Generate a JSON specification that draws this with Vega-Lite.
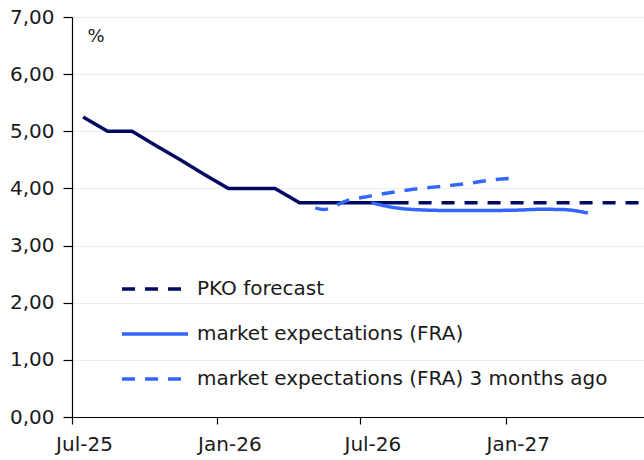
{
  "$schema": "https://vega.github.io/schema/vega-lite/v6.json",
  "width": 572,
  "height": 400,
  "autosize": {"type": "none"},
  "padding": {"left": 72, "top": 17, "right": 0, "bottom": 43},
  "background": "white",
  "datasets": {
    "shade": [{"start": "2026-08-01", "end": "2027-06-25"}],
    "actual": [
      {"date": "2025-07-15", "value": 5.25},
      {"date": "2025-08-15", "value": 5.0},
      {"date": "2025-09-15", "value": 5.0},
      {"date": "2025-10-15", "value": 4.75},
      {"date": "2025-11-15", "value": 4.5},
      {"date": "2025-12-15", "value": 4.25},
      {"date": "2026-01-15", "value": 4.0},
      {"date": "2026-02-15", "value": 4.0},
      {"date": "2026-03-15", "value": 4.0},
      {"date": "2026-04-15", "value": 3.75},
      {"date": "2026-05-15", "value": 3.75},
      {"date": "2026-06-15", "value": 3.75},
      {"date": "2026-07-15", "value": 3.75},
      {"date": "2026-08-31", "value": 3.75}
    ],
    "pko": [
      {"series": "PKO forecast", "date": "2026-08-31", "value": 3.75},
      {"series": "PKO forecast", "date": "2027-06-25", "value": 3.75}
    ],
    "fra": [
      {"series": "market expectations (FRA)", "date": "2026-07-15", "value": 3.75},
      {"series": "market expectations (FRA)", "date": "2026-08-15", "value": 3.66},
      {"series": "market expectations (FRA)", "date": "2026-09-15", "value": 3.625},
      {"series": "market expectations (FRA)", "date": "2026-10-15", "value": 3.615},
      {"series": "market expectations (FRA)", "date": "2026-11-15", "value": 3.615},
      {"series": "market expectations (FRA)", "date": "2026-12-15", "value": 3.615},
      {"series": "market expectations (FRA)", "date": "2027-01-15", "value": 3.62},
      {"series": "market expectations (FRA)", "date": "2027-02-15", "value": 3.635},
      {"series": "market expectations (FRA)", "date": "2027-03-15", "value": 3.63},
      {"series": "market expectations (FRA)", "date": "2027-04-15", "value": 3.57},
      {"series": "market expectations (FRA) 3 months ago", "date": "2026-05-05", "value": 3.66},
      {"series": "market expectations (FRA) 3 months ago", "date": "2026-05-15", "value": 3.63},
      {"series": "market expectations (FRA) 3 months ago", "date": "2026-06-15", "value": 3.79},
      {"series": "market expectations (FRA) 3 months ago", "date": "2026-07-15", "value": 3.87},
      {"series": "market expectations (FRA) 3 months ago", "date": "2026-08-15", "value": 3.94},
      {"series": "market expectations (FRA) 3 months ago", "date": "2026-09-15", "value": 4.0},
      {"series": "market expectations (FRA) 3 months ago", "date": "2026-10-15", "value": 4.04},
      {"series": "market expectations (FRA) 3 months ago", "date": "2026-11-15", "value": 4.09},
      {"series": "market expectations (FRA) 3 months ago", "date": "2026-12-15", "value": 4.15},
      {"series": "market expectations (FRA) 3 months ago", "date": "2027-01-10", "value": 4.18}
    ]
  },
  "encoding": {
    "x": {
      "field": "date",
      "type": "temporal",
      "scale": {
        "type": "utc",
        "domain": [
          {"year": 2025, "month": 7, "date": 1, "utc": true},
          {"year": 2027, "month": 6, "date": 25, "utc": true}
        ]
      },
      "axis": {
        "title": null,
        "grid": false,
        "zindex": 1,
        "values": [
          {"year": 2025, "month": 7, "date": 1, "utc": true},
          {"year": 2026, "month": 1, "date": 1, "utc": true},
          {"year": 2026, "month": 7, "date": 1, "utc": true},
          {"year": 2027, "month": 1, "date": 1, "utc": true}
        ],
        "labelExpr": "utcFormat(datum.value, '%b-%y')",
        "labelFlush": false,
        "labelAlign": "center",
        "labelOffset": 12,
        "labelOverlap": false,
        "tickSize": 7,
        "labelPadding": 10
      }
    },
    "y": {
      "field": "value",
      "type": "quantitative",
      "scale": {"domain": [0, 7], "nice": false, "zero": true},
      "axis": {
        "values": [0, 1, 2, 3, 4, 5, 6, 7],
        "labelExpr": "replace(format(datum.value, '.2f'), '.', ',')",
        "grid": true,
        "gridColor": "#ececec",
        "gridWidth": 1,
        "zindex": 0,
        "tickSize": 9,
        "labelPadding": 9,
        "title": "%",
        "titleAngle": 0,
        "titleX": 15,
        "titleY": 19,
        "titleAlign": "left",
        "titleBaseline": "middle",
        "titleFontSize": 18,
        "titleFontWeight": "normal",
        "titleColor": "#1a1a1a"
      }
    }
  },
  "layer": [
    {
      "data": {"name": "shade"},
      "mark": {"type": "rect", "color": "#f2f2f2"},
      "encoding": {
        "x": {"field": "start", "type": "temporal"},
        "x2": {"field": "end"},
        "y": {"datum": 0},
        "y2": {"datum": 7}
      }
    },
    {
      "data": {"name": "actual"},
      "mark": {"type": "line", "color": "#000a60", "strokeWidth": 3.5}
    },
    {
      "data": {"name": "pko"},
      "mark": {"type": "line", "strokeWidth": 3.5, "strokeDashOffset": 13},
      "encoding": {
        "color": {"field": "series", "type": "nominal", "scale": {"domain": ["PKO forecast", "market expectations (FRA)", "market expectations (FRA) 3 months ago"], "range": ["#000a60", "#3366ff", "#3366ff"]}, "legend": {"title": null}},
        "strokeDash": {"field": "series", "type": "nominal", "scale": {"domain": ["PKO forecast", "market expectations (FRA)", "market expectations (FRA) 3 months ago"], "range": [[13, 10], [1, 0], [13, 10]]}, "legend": {"title": null}}
      }
    },
    {
      "data": {"name": "fra"},
      "mark": {"type": "line", "strokeWidth": 3.5, "interpolate": "monotone"},
      "encoding": {
        "color": {"field": "series", "type": "nominal"},
        "strokeDash": {"field": "series", "type": "nominal"}
      }
    }
  ],
  "resolve": {"scale": {"color": "shared", "strokeDash": "shared"}},
  "config": {
    "font": "DejaVu Sans",
    "view": {"stroke": null},
    "axis": {"labelFontSize": 20, "labelColor": "#1a1a1a", "domainColor": "#000000", "tickColor": "#000000", "domainWidth": 1.2, "tickWidth": 1.2},
    "legend": {
      "orient": "none",
      "legendX": 48,
      "legendY": 237,
      "labelFontSize": 20,
      "labelColor": "#1a1a1a",
      "labelLimit": 0,
      "symbolType": "stroke",
      "symbolSize": 4356,
      "symbolStrokeWidth": 3.5,
      "labelOffset": 7,
      "rowPadding": 0,
      "padding": 0
    }
  }
}
